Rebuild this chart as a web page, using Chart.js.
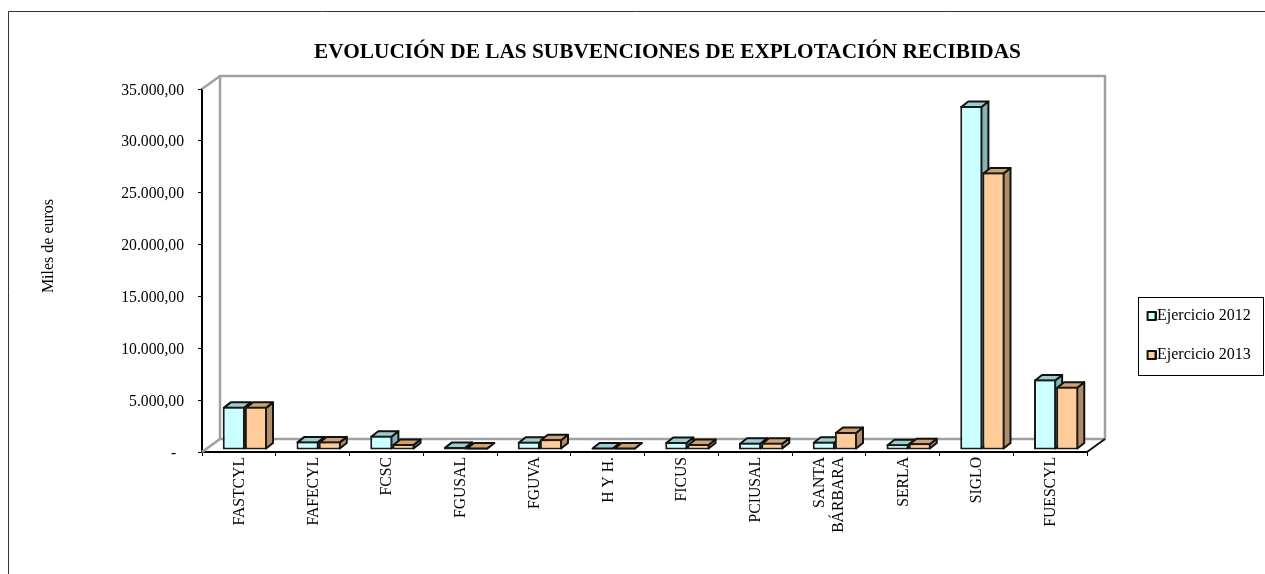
<!DOCTYPE html>
<html><head><meta charset="utf-8">
<style>html,body{margin:0;padding:0;background:#fff;overflow:hidden}canvas{display:block}</style>
<script src="https://cdn.jsdelivr.net/npm/chart.js@4"></script>
</head><body>
<div style="width:1265px;height:574px;position:relative"><canvas id="c"></canvas></div>
<script>
const categories = ["FASTCYL","FAFECYL","FCSC","FGUSAL","FGUVA","H Y H.","FICUS","PCIUSAL",["SANTA","BÁRBARA"],"SERLA","SIGLO","FUESCYL"];
const ejercicio2012 = [4160,830,1370,300,800,30,770,700,800,550,33170,6800];
const ejercicio2013 = [4160,830,580,100,1030,10,580,700,1730,650,26760,6090];
const seriesNames = ["Ejercicio 2012","Ejercicio 2013"];
const chartTitle = "EVOLUCIÓN DE LAS SUBVENCIONES DE EXPLOTACIÓN RECIBIDAS";
const axisTitle = "Miles de euros";
const FONT = "'Liberation Serif'";
const FILL = ['#CCFFFF','#FFCC99'];
const DX = 18, DY = 13;             // wall depth
const BX = 6, BY = -2;              // bar offset inside floor
const bx = 7, by = 5.5;             // bar depth
const faces = [{top:'#9CCFCF',side:'#86B4B4'},{top:'#CFA272',side:'#B08C68'}];

function marker(fill){
  const m = document.createElement('canvas');
  m.width = 15; m.height = 12;
  const c = m.getContext('2d');
  c.fillStyle = fill; c.strokeStyle = '#111'; c.lineWidth = 2; c.lineJoin = 'round';
  c.fillRect(6,2,8,8); c.strokeRect(6,2,8,8);
  return m;
}
const markers = FILL.map(marker);

function drawFaces(ctx, el, f){
  const l = el.x - el.width/2 + 1, r = el.x + el.width/2 - 1, b = el.base - 1, t = Math.min(el.y + 1, b);
  ctx.lineWidth = 2; ctx.strokeStyle = '#111'; ctx.lineJoin = 'round';
  ctx.fillStyle = f.side;
  ctx.beginPath(); ctx.moveTo(r,t); ctx.lineTo(r+bx,t-by); ctx.lineTo(r+bx,b-by); ctx.lineTo(r,b); ctx.closePath(); ctx.fill(); ctx.stroke();
  ctx.fillStyle = f.top;
  ctx.beginPath(); ctx.moveTo(l,t); ctx.lineTo(l+bx,t-by); ctx.lineTo(r+bx,t-by); ctx.lineTo(r,t); ctx.closePath(); ctx.fill(); ctx.stroke();
}

const scene = {
  id:'scene',
  afterLayout(chart){
    const lg = chart.legend;
    lg.left = 1126; lg.top = 285; lg.right = lg.left + lg.width; lg.bottom = lg.top + lg.height;
    lg.adjustHitBoxes();
    const tb = chart.titleBlock;
    tb.left += 124; tb.right += 124;
    const s = chart.scales.y;
    if(!s._titleShifted){
      const d = s.drawTitle;
      s.drawTitle = function(){ const c=this.ctx; c.save(); c.translate(1,-24.5); d.call(this); c.restore(); };
      s._titleShifted = true;
    }
    const xs = chart.scales.x;
    if(!xs._labelsShifted){
      const g = xs._computeLabelItems;
      xs._computeLabelItems = function(ca){
        const items = g.call(this,ca);
        items.forEach(it=>{ if(Array.isArray(it.label)){ const t=it.options.translation; it.options.translation=[t[0]-9.5,t[1]]; } });
        return items;
      };
      xs._labelItems = null;
      xs._labelsShifted = true;
    }
  },
  beforeDraw(chart){
    const c = chart.ctx;
    c.save();
    c.strokeStyle = '#333'; c.lineWidth = 1;
    c.beginPath(); c.moveTo(8.5,574); c.lineTo(8.5,11.5); c.lineTo(1265,11.5); c.stroke();
    c.strokeStyle = '#000';
    c.strokeRect(1138.5,297.5,125,78);
    c.restore();
  },
  beforeDatasetsDraw(chart){
    const c = chart.ctx, a = chart.chartArea;
    c.save();
    c.strokeStyle = '#A0A0A0'; c.lineWidth = 2.5; c.lineJoin='round';
    c.beginPath();
    c.moveTo(a.left,a.top); c.lineTo(a.left+DX,a.top-DY);
    c.lineTo(a.right+DX,a.top-DY); c.lineTo(a.right+DX,a.bottom-DY);
    c.lineTo(a.left+DX,a.bottom-DY); c.lineTo(a.left+DX,a.top-DY);
    c.moveTo(a.left+DX,a.bottom-DY); c.lineTo(a.left,a.bottom);
    c.stroke();
    c.strokeStyle = '#111'; c.lineWidth = 2;
    c.beginPath(); c.moveTo(a.right,a.bottom); c.lineTo(a.right+DX,a.bottom-DY); c.stroke();
    c.restore();
    c.save(); c.translate(BX,BY);
  },
  beforeDatasetDraw(chart,args){
    if(args.index===1) return false;
    args.meta.data.forEach(el=>drawFaces(chart.ctx,el,faces[0]));
  },
  afterDatasetDraw(chart,args){
    if(args.index!==0) return;
    chart.getDatasetMeta(1).data.forEach(el=>{drawFaces(chart.ctx,el,faces[1]);el.draw(chart.ctx);});
  },
  afterDatasetsDraw(chart){ chart.ctx.restore(); }
};

new Chart(document.getElementById('c'),{
  type:'bar',
  data:{labels:categories,datasets:[
    {label:seriesNames[0],data:ejercicio2012,backgroundColor:FILL[0],borderColor:'#1a1a1a',borderWidth:2,borderSkipped:false,clip:false},
    {label:seriesNames[1],data:ejercicio2013,backgroundColor:FILL[1],borderColor:'#1a1a1a',borderWidth:2,borderSkipped:false,clip:false}
  ]},
  plugins:[scene],
  options:{
    responsive:true,maintainAspectRatio:false,animation:false,
    categoryPercentage:0.6,barPercentage:1,
    layout:{padding:{left:0,right:178,top:0,bottom:0}},
    plugins:{
      title:{display:true,text:chartTitle,color:'#000',font:{family:FONT,size:21.3,weight:'bold',lineHeight:1.2},padding:{top:40,bottom:23.44}},
      legend:{display:true,position:'chartArea',align:'start',
        labels:{color:'#000',font:{family:FONT,size:16},usePointStyle:true,boxWidth:0.01,boxHeight:8,padding:23,
          generateLabels(chart){
            return Chart.defaults.plugins.legend.labels.generateLabels(chart).map((it,i)=>Object.assign(it,{pointStyle:markers[i]}));
          }}},
      tooltip:{enabled:false}
    },
    scales:{
      x:{type:'category',offset:true,
        grid:{display:true,offset:true,drawOnChartArea:false,tickLength:4,color:'#000',tickWidth:1},
        border:{display:true,color:'#000',width:2},
        ticks:{color:'#000',font:{family:FONT,size:15.7},minRotation:90,maxRotation:90,autoSkip:false,padding:1,labelOffset:1},
        afterFit(s){s.height=122;}
      },
      y:{min:0,max:35000,
        grid:{display:true,drawOnChartArea:false,tickLength:4,color:'#000',tickWidth:1},
        border:{display:true,color:'#000',width:2},
        title:{display:true,text:axisTitle,color:'#000',font:{family:FONT,size:16},padding:{top:38.4,bottom:0}},
        ticks:{color:'#000',font:{family:FONT,size:15.7},stepSize:5000,padding:14,labelOffset:1.5,
          callback:v=>v===0?'-  ':v.toLocaleString('de-DE',{minimumFractionDigits:2,maximumFractionDigits:2})},
        afterFit(s){s.width=202;}
      }
    }
  }
});
</script>
</body></html>
